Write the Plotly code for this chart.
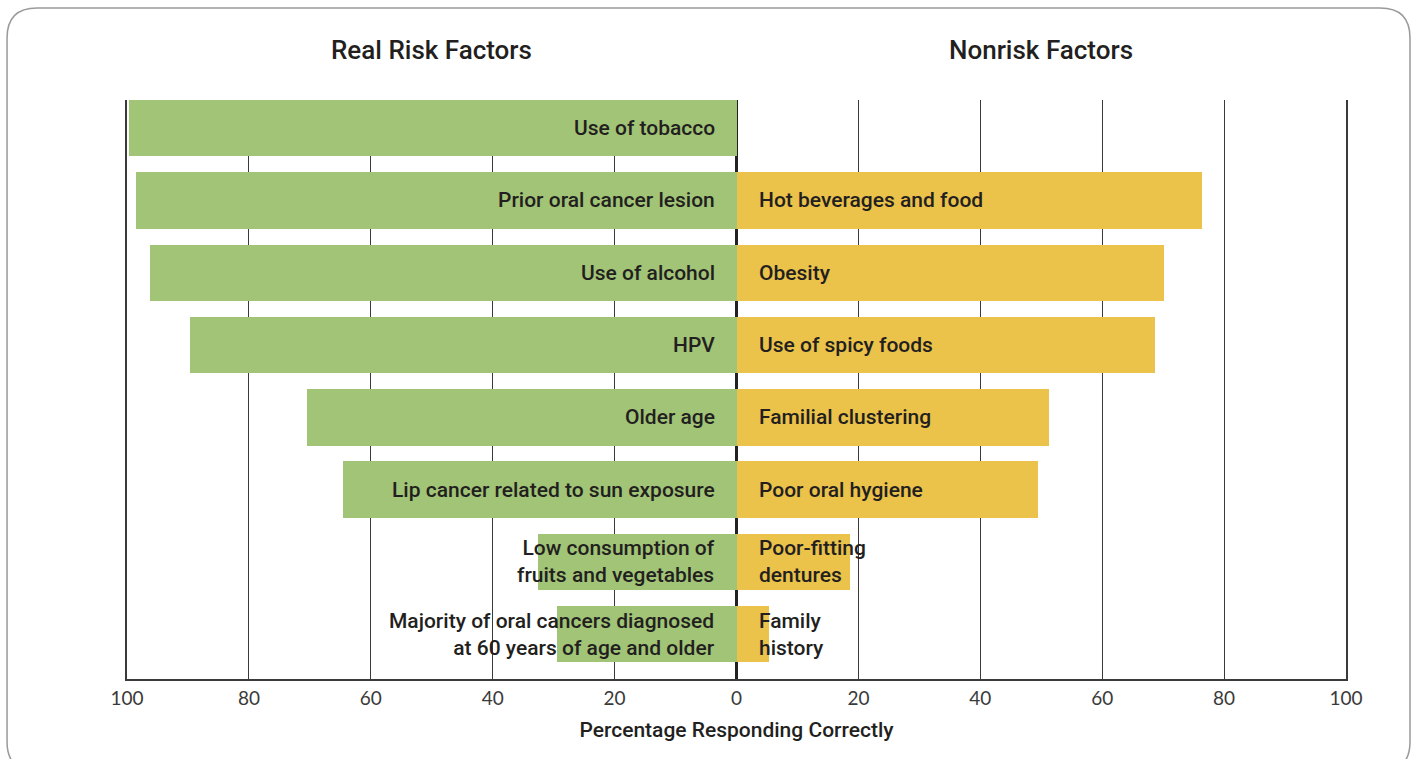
import plotly.graph_objects as go

# ─────────────────────────────────────────────────────────────────────────────
# Data
# ─────────────────────────────────────────────────────────────────────────────

risk_labels = [
    "Use of tobacco",
    "Prior oral cancer lesion",
    "Use of alcohol",
    "HPV",
    "Older age",
    "Lip cancer related to sun exposure",
    "Low consumption of<br>fruits and vegetables",
    "Majority of oral cancers diagnosed<br>at 60 years of age and older",
]
risk_values = [99.6, 98.6, 96.3, 89.7, 70.5, 64.5, 32.6, 29.5]

nonrisk_labels = [
    "",
    "Hot beverages and food",
    "Obesity",
    "Use of spicy foods",
    "Familial clustering",
    "Poor oral hygiene",
    "Poor-fitting<br>dentures",
    "Family<br>history",
]
nonrisk_values = [None, 76.3, 70.1, 68.7, 51.2, 49.5, 18.7, 5.4]

tick_vals = [-100, -80, -60, -40, -20, 0, 20, 40, 60, 80, 100]
tick_text = ["100", "80", "60", "40", "20", "0", "20", "40", "60", "80", "100"]

GREEN = "#a1c476"
YELLOW = "#ebc24a"
TEXT = "#231f20"
LABEL_FONT = "Roboto"

rows = list(range(len(risk_labels)))

fig = go.Figure()
fig.add_trace(go.Bar(
    y=rows, x=[-v for v in risk_values], orientation="h",
    marker=dict(color=GREEN, line=dict(width=0)), width=0.78,
    hoverinfo="skip", showlegend=False,
))
fig.add_trace(go.Bar(
    y=rows, x=nonrisk_values, orientation="h",
    marker=dict(color=YELLOW, line=dict(width=0)), width=0.78,
    hoverinfo="skip", showlegend=False,
))

label_font = dict(family=LABEL_FONT, size=21, color=TEXT, weight=500)

# bar labels
for i, lab in enumerate(risk_labels):
    fig.add_annotation(x=0, y=i, text=lab, showarrow=False, xanchor="right",
                       xshift=-20, align="right", font=label_font)
for i, lab in enumerate(nonrisk_labels):
    if lab:
        fig.add_annotation(x=0, y=i, text=lab, showarrow=False, xanchor="left",
                           xshift=20, align="left", font=label_font)

# panel titles
title_font = dict(family=LABEL_FONT, size=26, color=TEXT, weight=500)
fig.add_annotation(x=-50, y=1, yref="paper", yanchor="middle", yshift=50,
                   text="Real Risk Factors", showarrow=False, font=title_font)
fig.add_annotation(x=50, y=1, yref="paper", yanchor="middle", yshift=50,
                   text="Nonrisk Factors", showarrow=False, font=title_font)

# rounded outer frame
x0, x1, y0, y1 = -0.0984, 1.0525, -0.16, 1.1589
rx, ry = 0.0246, 0.0518
frame = (f"M {x0},{y1 - ry} Q {x0},{y1} {x0 + rx},{y1} "
         f"L {x1 - rx},{y1} Q {x1},{y1} {x1},{y1 - ry} "
         f"L {x1},{y0 + ry} Q {x1},{y0} {x1 - rx},{y0} "
         f"L {x0 + rx},{y0} Q {x0},{y0} {x0},{y0 + ry} Z")
fig.add_shape(type="path", path=frame, xref="paper", yref="paper",
              line=dict(color="#9a9a9a", width=1.5), layer="below")

fig.update_layout(
    width=1416, height=759,
    margin=dict(l=127, r=70, t=100, b=80),
    paper_bgcolor="white", plot_bgcolor="white",
    barmode="overlay", bargap=0,
    xaxis=dict(
        range=[-100, 100], tickvals=tick_vals, ticktext=tick_text,
        showgrid=True, gridcolor="#3a3a3a", gridwidth=1,
        zeroline=True, zerolinecolor="#222222", zerolinewidth=2.5,
        showline=True, linecolor="#3a3a3a", linewidth=1.5,
        ticks="", ticklabelstandoff=1,
        tickfont=dict(family="Lato", size=19, color="#3a3a3a"),
        title=dict(text="Percentage Responding Correctly", standoff=15,
                   font=dict(family=LABEL_FONT, size=21, color=TEXT, weight=500)),
        fixedrange=True,
    ),
    yaxis=dict(
        range=[7.62, -0.39], showgrid=False, zeroline=False,
        showticklabels=False, ticks="",
        showline=True, mirror=True, linecolor="#3a3a3a", linewidth=1.5,
        fixedrange=True,
    ),
)

fig.write_html("out.html", config={"displayModeBar": False},
               post_script="document.body.style.margin='0';document.body.style.overflow='hidden';")
